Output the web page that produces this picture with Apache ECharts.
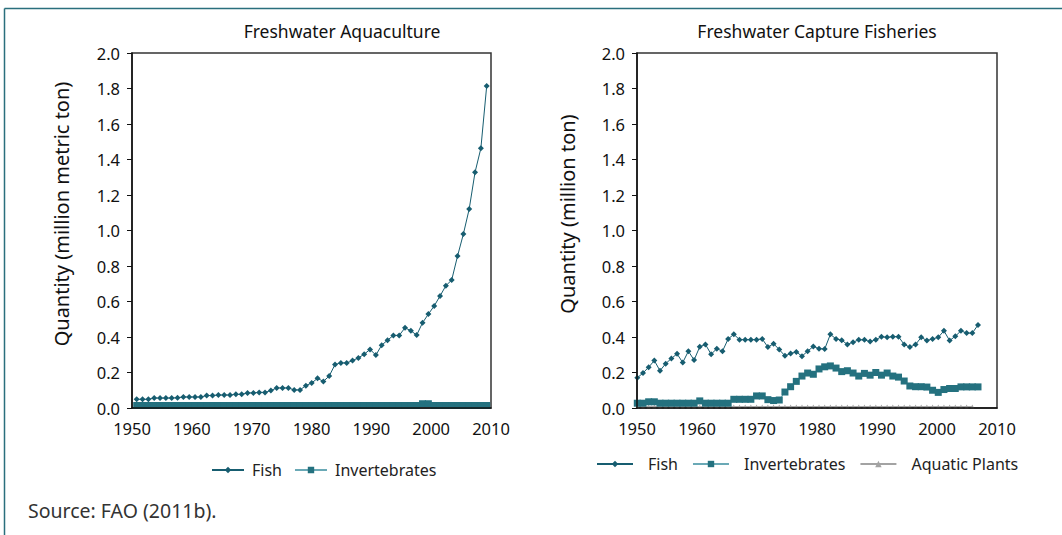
<!DOCTYPE html>
<html><head><meta charset="utf-8">
<script src="https://cdn.jsdelivr.net/npm/echarts@6/dist/echarts.min.js"></script>
<style>html,body{margin:0;padding:0;background:#fff;}#c{width:1062px;height:535px;}</style>
</head><body><div id="c"></div>
<script>
// ---------- data ----------
const aquaYears = [1950,1951,1952,1953,1954,1955,1956,1957,1958,1959,1960,1961,1962,1963,1964,1965,1966,1967,1968,1969,1970,1971,1972,1973,1974,1975,1976,1977,1978,1979,1980,1981,1982,1983,1984,1985,1986,1987,1988,1989,1990,1991,1992,1993,1994,1995,1996,1997,1998,1999,2000,2001,2002,2003,2004,2005,2006,2007,2008,2009,2010];
const aquaFish = [0.049,0.049,0.049,0.056,0.056,0.056,0.056,0.058,0.062,0.062,
                  0.062,0.062,0.070,0.070,0.073,0.073,0.073,0.077,0.077,0.085,
                  0.085,0.088,0.088,0.098,0.113,0.113,0.113,0.102,0.102,0.126,
                  0.141,0.167,0.150,0.180,0.245,0.254,0.254,0.267,0.282,0.303,
                  0.330,0.298,0.354,0.382,0.409,0.409,0.452,0.435,0.411,0.480,
                  0.529,0.575,0.631,0.689,0.721,0.856,0.980,1.121,1.328,1.463,
                  1.814];
const aquaInvert = [0.014,0.014,0.014,0.014,0.014,0.014,0.014,0.014,0.014,0.014,
                    0.014,0.014,0.014,0.014,0.014,0.014,0.014,0.014,0.014,0.014,
                    0.014,0.014,0.014,0.014,0.014,0.014,0.014,0.014,0.014,0.014,
                    0.014,0.014,0.014,0.014,0.014,0.014,0.014,0.014,0.014,0.014,
                    0.014,0.014,0.014,0.014,0.014,0.014,0.014,0.014,0.014,0.024,
                    0.024,0.014,0.014,0.014,0.014,0.014,0.014,0.014,0.014,0.014,
                    0.014];
const capYears = [1950,1951,1952,1953,1954,1955,1956,1957,1958,1959,1960,1961,1962,1963,1964,1965,1966,1967,1968,1969,1970,1971,1972,1973,1974,1975,1976,1977,1978,1979,1980,1981,1982,1983,1984,1985,1986,1987,1988,1989,1990,1991,1992,1993,1994,1995,1996,1997,1998,1999,2000,2001,2002,2003,2004,2005,2006,2007,2008,2009,2010];
const capFish = [0.170,0.197,0.230,0.267,0.210,0.250,0.279,0.305,0.256,0.320,
                 0.270,0.345,0.358,0.303,0.334,0.320,0.389,0.415,0.385,0.385,
                 0.385,0.385,0.389,0.343,0.362,0.329,0.294,0.307,0.316,0.292,
                 0.320,0.347,0.334,0.332,0.415,0.389,0.382,0.358,0.371,0.384,
                 0.384,0.374,0.384,0.402,0.398,0.402,0.402,0.358,0.343,0.358,
                 0.398,0.380,0.389,0.398,0.435,0.380,0.404,0.435,0.422,0.422,
                 0.468];
const capInvert = [0.027,0.027,0.035,0.035,0.027,0.027,0.027,0.027,0.027,0.027,
                   0.027,0.040,0.027,0.027,0.027,0.027,0.027,0.049,0.049,0.049,
                   0.049,0.068,0.068,0.047,0.042,0.045,0.090,0.120,0.150,0.180,
                   0.197,0.190,0.220,0.232,0.237,0.225,0.205,0.210,0.197,0.180,
                   0.195,0.185,0.200,0.185,0.197,0.180,0.174,0.152,0.124,0.120,
                   0.120,0.118,0.100,0.088,0.104,0.110,0.110,0.119,0.119,0.119,
                   0.119];
const capPlants = [0.008,0.008,0.008,0.008,0.008,0.008,0.008,0.008,0.008,0.008,
                   0.008,0.008,0.008,0.008,0.008,0.008,0.008,0.008,0.008,0.008,
                   0.008,0.008,0.008,0.008,0.008,0.008,0.008,0.008,0.008,0.008,
                   0.008,0.008,0.008,0.008,0.008,0.008,0.008,0.008,0.008,0.008,
                   0.008,0.008,0.008,0.008,0.008,0.008,0.008,0.008,0.008,0.008,
                   0.008,0.008,0.008,0.008,0.008,0.008,0.008,0.008,0.008,0.008];
const yTicks = ['0.0','0.2','0.4','0.6','0.8','1.0','1.2','1.4','1.6','1.8','2.0'];
const xTicks = [1950,1960,1970,1980,1990,2000,2010];
const titles = ['Freshwater Aquaculture','Freshwater Capture Fisheries'];
const yNames = ['Quantity (million metric ton)','Quantity (million ton)'];
const seriesNames = ['Fish','Invertebrates','Aquatic Plants'];
const sourceText = 'Source: FAO (2011b).';

// ---------- style ----------
const FONT = '"Noto Sans", "Open Sans", sans-serif';
const C_FISH = '#175d70', C_INV = '#24717f', C_INV_LINE = '#6aa9b6', C_PLANT = '#a3a3a3';
const yMin = +yTicks[0], yMax = +yTicks[yTicks.length-1], yStep = +yTicks[1] - +yTicks[0];

const chart = echarts.init(document.getElementById('c'), null, {renderer: 'svg'});

function visX(gi){
  return {gridIndex: gi, type:'value', min: xTicks[0], max: xTicks[xTicks.length-1], interval: 10, z: 5,
    axisLine:{show:true, onZero:false, lineStyle:{color:'#111', width:1.5}}, axisTick:{show:false},
    splitLine:{show:false}, axisLabel:{color:'#111', fontSize:16.5, fontFamily:FONT, margin:12, formatter: v => String(v)}};
}
function visY(gi, name, gap){
  return {gridIndex: gi, type:'value', min:yMin, max:yMax, interval:yStep, z: 5,
    name: name, nameLocation:'middle', nameGap: gap, nameRotate: 90,
    nameTextStyle:{color:'#111', fontSize:20, fontFamily:FONT, padding:[0,0,0,33]},
    axisLine:{show:true, lineStyle:{color:'#111', width:1.5}},
    axisTick:{show:true, inside:false, length:5, lineStyle:{color:'#111'}},
    splitLine:{show:false},
    axisLabel:{color:'#111', fontSize:16.5, fontFamily:FONT, margin:12, formatter: v => yTicks[Math.round((v - yMin)/yStep)]}};
}
function hidX(gi, cats){ return {gridIndex: gi, type:'category', data: cats, boundaryGap:false, show:false}; }
function hidY(gi){ return {gridIndex: gi, type:'value', min:yMin, max:yMax, show:false}; }

const fishStyle = (xi, yi, data) => ({name: seriesNames[0], type:'line', xAxisIndex: xi, yAxisIndex: yi, data,
  symbol:'diamond', symbolSize:6, showSymbol:true, showAllSymbol:true, lineStyle:{color:C_FISH, width:1}, itemStyle:{color:C_FISH}, z: 4});
const invStyle = (xi, yi, data) => ({name: seriesNames[1], type:'line', xAxisIndex: xi, yAxisIndex: yi, data,
  symbol:'rect', symbolSize:7, showSymbol:true, showAllSymbol:true, lineStyle:{color:C_INV_LINE, width:1}, itemStyle:{color:C_INV}, z: 3});
const plantStyle = (xi, yi, data) => ({name: seriesNames[2], type:'line', xAxisIndex: xi, yAxisIndex: yi, data,
  symbol:'triangle', symbolSize:4, showSymbol:true, showAllSymbol:true, lineStyle:{color:C_PLANT, width:1}, itemStyle:{color:C_PLANT}, z: 2});

const legendCommon = {orient:'horizontal', itemHeight:8, padding:0, selectedMode:false};
const legendText = pad => ({fontSize:16, fontFamily:FONT, color:'#222', padding:[0,0,0,pad]});

chart.setOption({
  animation:false,
  grid:[
    {left:132, top:53, width:359, height:355, show:true, borderColor:'#333', borderWidth:1.5, backgroundColor:'transparent'},
    {left:136.7, top:53, width:350, height:355},
    {left:637, top:53, width:360, height:355, show:true, borderColor:'#333', borderWidth:1.5, backgroundColor:'transparent'},
    {left:637.3, top:53, width:340.7, height:355}
  ],
  xAxis:[visX(0), hidX(1, aquaYears), visX(2), hidX(3, capYears)],
  yAxis:[visY(0, yNames[0], 61), hidY(1), visY(2, yNames[1], 60), hidY(3)],
  legend:[
    Object.assign({}, legendCommon, {left:211, top:462, itemWidth:32, itemGap:12, textStyle:legendText(3), data: seriesNames.slice(0,2)}),
    Object.assign({}, legendCommon, {left:596, top:456, itemWidth:36, itemGap:14, textStyle:legendText(10), data: seriesNames.slice(0,3)})
  ],
  series:[
    invStyle(1,1,aquaInvert),
    fishStyle(1,1,aquaFish),
    plantStyle(3,3,capPlants),
    invStyle(3,3,capInvert),
    fishStyle(3,3,capFish)
  ],
  graphic:[
    {type:'line', shape:{x1:4.5, y1:8.5, x2:1062, y2:8.5}, style:{stroke:'#2a6f7d', lineWidth:1.5}, z:10},
    {type:'line', shape:{x1:4.5, y1:8.5, x2:4.5, y2:535}, style:{stroke:'#2a6f7d', lineWidth:1.5}, z:10},
    {type:'text', x:342, y:31, style:{text:titles[0], fill:'#111', font:'17.5px ' + FONT, textAlign:'center', textVerticalAlign:'middle'}},
    {type:'text', x:817, y:31, style:{text:titles[1], fill:'#111', font:'17.5px ' + FONT, textAlign:'center', textVerticalAlign:'middle'}},
    {type:'text', x:28, y:510, style:{text:sourceText, fill:'#333', font:'19.5px ' + FONT, textAlign:'left', textVerticalAlign:'middle'}},
    {type:'rect', shape:{x:190, y:477.5, width:280, height:12}, style:{fill:'#fff'}, z:100}
  ]
});
</script></body></html>
